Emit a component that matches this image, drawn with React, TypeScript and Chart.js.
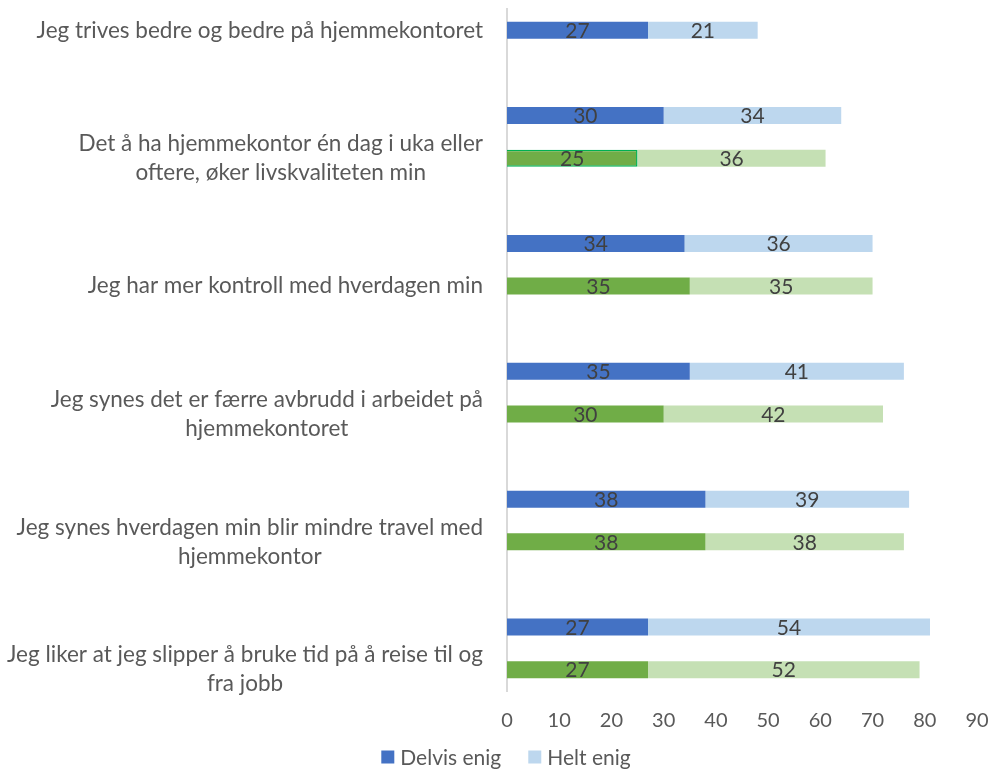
import React, { useEffect, useRef } from "react";
import { Chart, registerables } from "chart.js";

Chart.register(...registerables);

const categories: string[][] = [
  ["Jeg trives bedre og bedre på hjemmekontoret"],
  ["Det å ha hjemmekontor én dag i uka eller", "oftere, øker livskvaliteten min"],
  ["Jeg har mer kontroll med hverdagen min"],
  ["Jeg synes det er færre avbrudd i arbeidet på", "hjemmekontoret"],
  ["Jeg synes hverdagen min blir mindre travel med", "hjemmekontor"],
  ["Jeg liker at jeg slipper å bruke tid på å reise til og", "fra jobb"],
];

const blueDelvis: (number | null)[] = [27, 30, 34, 35, 38, 27];
const blueHelt: (number | null)[] = [21, 34, 36, 41, 39, 54];
const greenDelvis: (number | null)[] = [null, 25, 35, 30, 38, 27];
const greenHelt: (number | null)[] = [null, 36, 35, 42, 38, 52];

const xTicks = [0, 10, 20, 30, 40, 50, 60, 70, 80, 90];
const legendNames = ["Delvis enig", "Helt enig"];

const COLORS = {
  blue: "#4472C4",
  lightBlue: "#BDD7EE",
  green: "#70AD47",
  lightGreen: "#C5E0B4",
  text: "#595959",
  value: "#404040",
  axis: "#D9D9D9",
  highlight: "#00B050",
};

const FONT = "Lato, 'Open Sans', sans-serif";

type Row = { label: string[] | null; kind: "blue" | "green" | "empty"; cat: number };
const rows: Row[] = [];
categories.forEach((lab, i) => {
  const hasGreen = greenDelvis[i] !== null;
  rows.push({ label: hasGreen ? null : lab, kind: "blue", cat: i });
  if (hasGreen) rows.push({ label: lab, kind: "green", cat: i });
  if (i < categories.length - 1) rows.push({ label: null, kind: "empty", cat: i });
});

const rowOf = (kind: "blue" | "green", arr: (number | null)[]) =>
  rows.map((r) => (r.kind === kind ? arr[r.cat] : null));

const highlightCat = 1;

export default function App() {
  const ref = useRef<HTMLCanvasElement | null>(null);

  useEffect(() => {
    if (!ref.current) return;

    const labelPlugin = {
      id: "customLabels",
      afterDatasetsDraw(chart: any) {
        const ctx = chart.ctx;
        ctx.save();
        ctx.font = `21px ${FONT}`;
        ctx.fillStyle = COLORS.value;
        ctx.textAlign = "center";
        ctx.textBaseline = "middle";
        chart.data.datasets.forEach((ds: any, di: number) => {
          const meta = chart.getDatasetMeta(di);
          meta.data.forEach((el: any, i: number) => {
            const v = ds.data[i];
            if (v === null || v === undefined) return;
            const { x, base, y } = el.getProps(["x", "base", "y"], true);
            ctx.fillText(String(v), (x + base) / 2, y + 1);
          });
        });

        const yScale = chart.scales.y;
        const rightEdge = chart.chartArea.left - 24;
        ctx.font = `22.5px ${FONT}`;
        ctx.fillStyle = COLORS.text;
        const lh = 29;
        rows.forEach((r, i) => {
          if (!r.label) return;
          const yc = yScale.getPixelForValue(i);
          const widths = r.label.map((l) => ctx.measureText(l).width);
          const maxW = Math.max(...widths);
          const cx = rightEdge - maxW / 2;
          const n = r.label.length;
          r.label.forEach((line, li) => {
            ctx.fillText(line, cx, yc + (li - (n - 1) / 2) * lh);
          });
        });

        ctx.font = `21px ${FONT}`;
        ctx.textAlign = "left";
        const box = 13;
        const gap = 6;
        const spacing = 27;
        const legendColors = [COLORS.blue, COLORS.lightBlue];
        const tw = legendNames.map((t) => ctx.measureText(t).width);
        const total = tw.reduce((a, w) => a + box + gap + w, 0) + spacing * (legendNames.length - 1);
        let lx = 506 - total / 2;
        const ly = 757;
        legendNames.forEach((t, i) => {
          ctx.fillStyle = legendColors[i];
          ctx.fillRect(lx, ly - box / 2, box, box);
          ctx.fillStyle = COLORS.text;
          ctx.fillText(t, lx + box + gap, ly + 1);
          lx += box + gap + tw[i] + spacing;
        });
        ctx.restore();
      },
    };

    const chart = new Chart(ref.current, {
      type: "bar",
      data: {
        labels: rows.map((_, i) => String(i)),
        datasets: [
          { label: legendNames[0], data: rowOf("blue", blueDelvis), backgroundColor: COLORS.blue, stack: "s" },
          { label: legendNames[1], data: rowOf("blue", blueHelt), backgroundColor: COLORS.lightBlue, stack: "s" },
          {
            label: "green1",
            data: rowOf("green", greenDelvis),
            backgroundColor: COLORS.green,
            borderColor: COLORS.highlight,
            borderWidth: (c: any) =>
              rows[c.dataIndex] && rows[c.dataIndex].kind === "green" && rows[c.dataIndex].cat === highlightCat ? 1.5 : 0,
            stack: "s",
          },
          { label: "green2", data: rowOf("green", greenHelt), backgroundColor: COLORS.lightGreen, stack: "s" },
        ],
      },
      options: {
        indexAxis: "y",
        animation: false,
        responsive: true,
        maintainAspectRatio: false,
        layout: { padding: { left: 35, right: 11, top: 9, bottom: 18 } },
        datasets: { bar: { barPercentage: 0.4, categoryPercentage: 1 } },
        scales: {
          x: {
            stacked: true,
            min: 0,
            max: 90,
            afterBuildTicks: (s: any) => {
              s.ticks = xTicks.map((v) => ({ value: v }));
            },
            afterFit: (s: any) => {
              s.paddingRight = 0;
              s.paddingLeft = 0;
            },
            grid: { display: false, drawTicks: false },
            border: { display: false },
            ticks: {
              color: COLORS.text,
              font: { family: FONT, size: 20 },
              padding: 18,
            },
          },
          y: {
            stacked: true,
            grid: { display: false, drawTicks: false },
            border: { display: true, color: COLORS.axis, width: 2 },
            ticks: { display: false },
            afterFit: (s: any) => {
              s.width = 472;
            },
          },
        },
        plugins: {
          legend: { display: false },
          tooltip: { enabled: false },
        },
      },
      plugins: [labelPlugin],
    } as any);

    return () => chart.destroy();
  }, []);

  return (
    <div style={{ position: "fixed", left: 0, top: 0, width: 988, height: 769, background: "#fff" }}>
      <canvas ref={ref} />
    </div>
  );
}
